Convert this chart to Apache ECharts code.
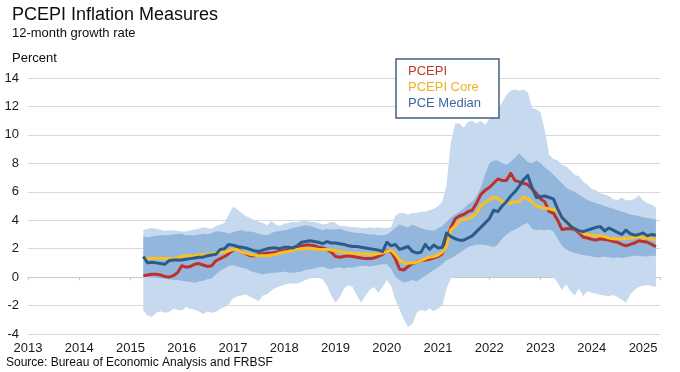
<!DOCTYPE html>
<html><head><meta charset="utf-8">
<script src="https://cdn.jsdelivr.net/npm/echarts@6/dist/echarts.min.js"></script>
<style>html,body{margin:0;padding:0;background:#fff}#c{width:680px;height:372px}</style>
</head><body><div id="c"></div>
<script>
// Monthly observations, first one = April 2015, last one = April 2025
const START_YEAR = 2015, START_MONTH = 4;
const yearTicks = [2013,2014,2015,2016,2017,2018,2019,2020,2021,2022,2023,2024,2025];
const yTicks = [-4,-2,0,2,4,6,8,10,12,14];

const pcepi = [
  0.1,0.15,0.2,0.2,0.15,0.05,0.0,0.1,0.3,
  0.8,0.7,0.75,0.9,0.95,0.85,0.75,0.8,1.15,1.3,1.45,1.65,
  1.9,2.0,1.75,1.65,1.5,1.5,1.6,1.65,1.7,1.7,1.75,1.8,
  1.85,1.95,2.0,2.1,2.2,2.25,2.25,2.2,2.1,2.05,1.95,1.75,
  1.45,1.4,1.45,1.5,1.45,1.4,1.35,1.3,1.3,1.35,1.45,1.6,
  1.85,1.8,1.3,0.55,0.5,0.75,0.95,1.05,1.15,1.2,1.25,1.35,
  1.45,1.65,2.5,3.5,4.1,4.3,4.4,4.6,4.7,5.2,5.8,6.1,
  6.3,6.6,6.9,6.8,6.8,7.3,6.8,6.7,6.6,6.5,6.2,5.9,
  5.5,5.3,4.6,4.5,4.0,3.35,3.4,3.4,3.35,3.1,2.8,2.75,
  2.65,2.6,2.7,2.65,2.6,2.5,2.45,2.3,2.2,2.3,2.4,2.55,
  2.5,2.45,2.3,2.15
];
const pcepiCore = [
  1.35,1.3,1.3,1.3,1.3,1.3,1.3,1.3,1.35,
  1.45,1.5,1.5,1.5,1.55,1.55,1.6,1.65,1.7,1.75,1.75,1.85,
  1.95,1.95,1.75,1.7,1.6,1.55,1.5,1.5,1.5,1.55,1.6,1.7,
  1.75,1.8,1.9,1.95,2.0,2.0,2.0,2.0,1.95,1.95,1.95,1.9,
  1.85,1.8,1.75,1.7,1.7,1.65,1.65,1.65,1.6,1.6,1.65,1.7,
  1.8,1.9,1.6,1.2,1.0,1.0,1.0,1.05,1.15,1.3,1.4,1.45,
  1.55,1.75,2.2,3.3,3.6,3.95,4.05,4.1,4.25,4.5,5.0,5.25,
  5.45,5.6,5.55,5.3,5.25,5.2,5.3,5.3,5.65,5.5,5.3,5.0,
  4.9,4.85,4.8,4.75,4.7,4.25,3.95,3.65,3.4,3.25,3.1,3.0,
  2.95,2.9,2.9,2.85,2.75,2.7,2.7,2.7,2.7,2.75,2.8,2.85,
  2.75,2.8,2.7,2.6
];
const pceMedian = [
  1.45,1.0,1.05,1.0,0.95,0.9,1.15,1.2,1.2,
  1.2,1.25,1.3,1.35,1.4,1.4,1.5,1.55,1.6,1.95,2.0,2.3,
  2.25,2.15,2.1,2.05,1.95,1.85,1.8,1.9,2.0,2.05,2.05,2.0,
  2.1,2.1,2.05,2.2,2.45,2.5,2.55,2.5,2.45,2.35,2.5,2.4,
  2.4,2.35,2.3,2.2,2.15,2.15,2.1,2.05,2.0,1.95,1.9,1.8,
  2.45,2.2,2.3,1.95,2.05,2.15,1.8,1.7,1.75,2.3,1.95,2.25,
  2.05,2.1,3.1,2.85,2.7,2.6,2.6,2.75,2.9,3.2,3.5,3.8,
  4.1,4.7,4.6,5.0,5.3,5.7,6.0,6.4,6.85,7.15,6.3,5.6,
  5.65,5.7,5.6,5.5,4.8,4.2,3.9,3.6,3.4,3.25,3.2,3.3,
  3.4,3.5,3.55,3.25,3.45,3.3,3.15,3.0,3.3,3.05,2.95,3.0,
  3.1,2.9,3.0,2.95
];
// outer (light) range of component inflation
const outerHigh = [
  3.3,3.4,3.45,3.4,3.35,3.25,3.3,3.3,3.25,
  3.2,3.2,3.3,3.35,3.4,3.5,3.45,3.4,3.6,3.7,3.8,4.4,
  4.95,4.75,4.5,4.3,4.15,4.0,3.9,3.8,3.65,3.95,3.7,3.6,
  3.75,3.8,3.9,3.85,3.95,4.0,3.9,3.9,3.8,3.7,3.75,3.9,
  3.8,3.6,3.6,3.55,3.5,3.5,3.45,3.45,3.5,3.45,3.5,3.45,
  3.45,3.5,4.3,4.5,4.5,4.4,4.5,4.5,4.6,4.6,4.7,4.8,
  5.0,5.3,6.5,9.5,10.8,10.8,10.5,10.9,11.0,10.8,11.0,10.7,
  11.1,11.3,11.8,12.3,12.8,13.1,13.2,13.1,13.2,13.0,11.9,11.8,
  11.6,10.3,8.6,8.3,8.2,7.9,7.8,7.5,7.2,7.1,6.7,6.5,
  6.2,6.1,5.9,5.8,5.7,5.5,5.4,5.6,5.4,5.4,5.5,5.75,
  5.4,5.2,5.1,4.9
];
const outerLow = [
  -2.35,-2.7,-2.8,-2.5,-2.4,-2.5,-2.45,-2.25,-2.3,
  -2.35,-2.1,-2.25,-2.3,-2.4,-2.6,-2.4,-2.5,-2.45,-2.25,-2.1,-1.9,
  -1.5,-1.35,-1.3,-1.2,-1.4,-1.5,-1.7,-1.3,-1.2,-0.95,-0.75,-0.65,
  -0.55,-0.45,-0.45,-0.45,-0.35,-0.2,-0.1,0.0,-0.05,-0.15,-0.6,-1.3,
  -1.8,-1.4,-0.8,-0.55,-0.7,-1.3,-1.8,-1.3,-0.9,-0.7,-1.1,-0.7,
  -0.2,-0.6,-1.6,-2.3,-3.0,-3.5,-3.3,-2.5,-2.3,-2.4,-2.2,-2.4,
  -2.2,-2.0,-0.8,-0.1,0.0,0.0,0.0,0.0,0.0,0.0,0.0,0.0,
  0.0,0.0,0.0,0.0,0.0,0.0,0.0,0.0,0.0,0.0,0.0,0.0,
  0.0,0.0,0.0,0.0,-0.4,-0.9,-0.5,-1.0,-1.3,-0.8,-1.35,-1.0,
  -1.1,-1.15,-1.25,-1.3,-1.35,-1.25,-1.4,-1.6,-1.8,-1.2,-0.9,-0.7,
  -0.6,-0.55,-0.65,-0.7
];
// inner (dark) range
const innerHigh = [
  2.85,2.8,2.85,2.9,2.95,2.95,2.95,3.0,3.05,
  3.05,2.95,2.95,2.95,3.0,3.05,3.0,3.1,3.2,3.2,3.15,3.05,
  3.15,3.25,3.3,3.2,3.2,3.15,3.05,3.0,2.95,3.1,3.2,3.25,
  3.3,3.35,3.45,3.5,3.6,3.65,3.6,3.5,3.4,3.3,3.4,3.35,
  3.35,3.4,3.3,3.2,3.15,3.1,3.1,3.05,3.0,3.0,2.95,2.95,
  3.0,3.2,3.45,3.7,3.6,3.5,3.7,3.55,3.45,3.35,3.3,3.25,
  3.45,3.6,3.9,4.2,4.4,4.6,4.8,5.1,5.3,5.7,6.3,7.2,
  8.0,8.2,8.2,8.0,7.9,8.1,8.4,8.7,8.4,8.1,8.0,8.2,
  8.0,7.7,7.5,7.2,6.9,6.6,6.3,6.1,6.0,5.8,5.6,5.4,
  5.3,5.2,5.1,5.0,4.9,4.8,4.7,4.6,4.5,4.4,4.35,4.3,
  4.2,4.15,4.1,4.05
];
const innerLow = [
  0.0,0.0,-0.05,-0.05,-0.1,-0.1,-0.15,-0.2,-0.2,
  -0.25,-0.3,-0.35,-0.4,-0.3,-0.25,-0.15,-0.1,0.2,0.45,0.6,0.8,
  0.85,0.75,0.65,0.6,0.45,0.35,0.25,0.2,0.25,0.3,0.3,0.35,
  0.4,0.3,0.3,0.35,0.4,0.5,0.55,0.6,0.7,0.75,0.6,0.55,
  0.65,0.7,0.6,0.7,0.65,0.75,0.8,0.8,0.75,0.8,0.85,0.9,
  0.9,0.6,0.0,-0.2,-0.4,-0.3,-0.2,-0.3,-0.1,0.1,0.3,0.5,
  0.7,0.9,1.2,1.3,1.5,1.7,1.9,2.1,2.2,2.3,2.3,2.25,
  2.2,2.1,2.3,2.7,3.0,3.2,3.35,3.5,3.7,3.8,3.4,3.3,
  3.35,3.3,3.35,3.2,2.7,2.2,1.95,1.8,1.7,1.6,1.55,1.5,
  1.45,1.4,1.4,1.45,1.4,1.35,1.4,1.35,1.4,1.45,1.5,1.5,
  1.45,1.45,1.5,1.5
];

const FONT = '"Liberation Sans", Arial, sans-serif';
const months = pcepi.map((_, i) => START_YEAR + (START_MONTH - 1 + i) / 12);
const pair = ys => ys.map((y, i) => [months[i], y]);

// Range band drawn as one polygon through the library's coordinate system
function band(name, lo, hi, color) {
  return {
    type: 'custom', name: name, silent: true, z: 2,
    data: months.map((m, i) => [m, lo[i], hi[i]]),
    encode: { x: 0, y: [1, 2] },
    renderItem: function (params, api) {
      if (params.dataIndex !== 0) return null;
      const pts = [];
      for (let i = 0; i < months.length; i++) pts.push(api.coord([months[i], hi[i]]));
      for (let i = months.length - 1; i >= 0; i--) pts.push(api.coord([months[i], lo[i]]));
      return { type: 'polygon', shape: { points: pts }, style: { fill: color, stroke: null } };
    }
  };
}
function line(name, ys, color) {
  return { type: 'line', name: name, data: pair(ys), symbol: 'none', z: 3,
    lineStyle: { color: color, width: 3, join: 'round' }, itemStyle: { color: color } };
}

const chart = echarts.init(document.getElementById('c'), null, { renderer: 'canvas' });
chart.setOption({
  animation: false,
  backgroundColor: '#fff',
  textStyle: { fontFamily: FONT },
  grid: { left: 28, right: 20, top: 78, bottom: 38, containLabel: false },
  xAxis: [{
    type: 'value', min: yearTicks[0], max: 2025.33, interval: 1,
    axisLine: { show: false, onZero: false }, axisTick: { show: false },
    splitLine: { show: false },
    axisLabel: { fontSize: 13, color: '#1a1a1a', margin: 8, fontFamily: FONT,
      showMaxLabel: false,
      formatter: v => (yearTicks.indexOf(Math.round(v)) >= 0 && Math.abs(v - Math.round(v)) < 1e-6) ? String(Math.round(v)) : '' }
  }, {
    type: 'value', min: yearTicks[0], max: 2025.33, interval: 1, position: 'bottom',
    axisLine: { show: true, onZero: true, lineStyle: { color: '#c8c8c8', width: 1 } },
    axisTick: { show: true, length: 3, lineStyle: { color: '#c8c8c8' } },
    axisLabel: { show: false }, splitLine: { show: false }
  }],
  yAxis: {
    type: 'value', min: yTicks[0], max: yTicks[yTicks.length - 1], interval: 2,
    axisLine: { show: false }, axisTick: { show: false },
    splitLine: { lineStyle: { color: '#d9d9d9', width: 1 } },
    axisLabel: { fontSize: 13, color: '#1a1a1a', margin: 9, fontFamily: FONT }
  },
  legend: {
    data: [
      { name: 'PCEPI', textStyle: { color: '#c0392b' } },
      { name: 'PCEPI Core', textStyle: { color: '#efb21e' } },
      { name: 'PCE Median', textStyle: { color: '#3b6a9a' } }
    ],
    orient: 'vertical', left: 396, top: 59, icon: 'rect', itemWidth: 0, itemHeight: 16, itemGap: 0,
    padding: [4, 18, 7, 7], borderColor: '#41607f', borderWidth: 1.5, backgroundColor: '#fff',
    selectedMode: false, itemStyle: { opacity: 0 },
    textStyle: { fontSize: 13, fontFamily: FONT, lineHeight: 16 }
  },
  graphic: [
    { type: 'text', x: 12, y: 15, style: { text: 'PCEPI Inflation Measures', fontSize: 18, fontFamily: FONT, fill: '#0d0d0d', verticalAlign: 'middle', align: 'left' } },
    { type: 'text', x: 12, y: 33, style: { text: '12-month growth rate', fontSize: 13, fontFamily: FONT, fill: '#0d0d0d', verticalAlign: 'middle', align: 'left' } },
    { type: 'text', x: 12, y: 58, style: { text: 'Percent', fontSize: 13, fontFamily: FONT, fill: '#0d0d0d', verticalAlign: 'middle', align: 'left' } },
    { type: 'text', x: 6, y: 363, style: { text: 'Source: Bureau of Economic Analysis and FRBSF', fontSize: 12, fontFamily: FONT, fill: '#0d0d0d', verticalAlign: 'middle', align: 'left' } }
  ],
  series: [
    band('outer range', outerLow, outerHigh, '#c6d9ee'),
    band('inner range', innerLow, innerHigh, '#93b6dd'),
    line('PCEPI', pcepi, '#c0302b'),
    line('PCEPI Core', pcepiCore, '#fcc01e'),
    line('PCE Median', pceMedian, '#2b5b8a')
  ]
});
</script>
</body></html>
